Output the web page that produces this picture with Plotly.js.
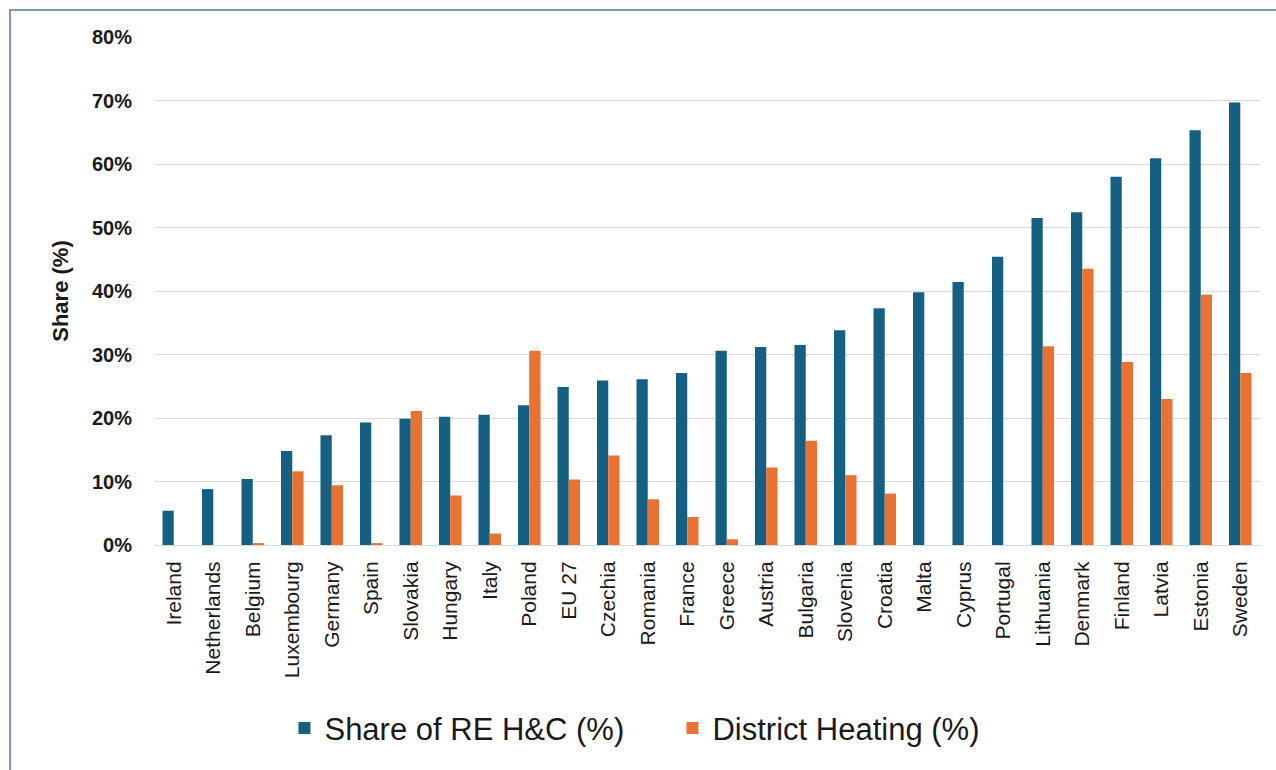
<!DOCTYPE html>
<html>
<head>
<meta charset="utf-8">
<script src="https://cdn.plot.ly/plotly-3.0.1.min.js"></script>
<style>
  html, body { margin: 0; padding: 0; background: #ffffff; }
  #chart { width: 1276px; height: 770px; }
  #frame { position: absolute; left: 9px; top: 9px; width: 1300px; height: 800px;
           border-left: 2px solid #7b98ae; border-top: 2px solid #7b98ae; pointer-events: none; }
</style>
</head>
<body>
<div id="chart"></div>
<div id="frame"></div>
<script>
const countries = ["Ireland","Netherlands","Belgium","Luxembourg","Germany","Spain","Slovakia","Hungary","Italy","Poland","EU 27","Czechia","Romania","France","Greece","Austria","Bulgaria","Slovenia","Croatia","Malta","Cyprus","Portugal","Lithuania","Denmark","Finland","Latvia","Estonia","Sweden"];
const shareRE = [5.4, 8.8, 10.4, 14.8, 17.3, 19.3, 19.9, 20.2, 20.5, 22.0, 24.9, 25.9, 26.1, 27.1, 30.6, 31.2, 31.5, 33.8, 37.3, 39.8, 41.4, 45.4, 51.5, 52.4, 58.0, 60.9, 65.3, 69.7];
const districtHeating = [0, 0, 0.3, 11.6, 9.4, 0.3, 21.1, 7.8, 1.8, 30.6, 10.3, 14.1, 7.2, 4.4, 0.9, 12.2, 16.4, 11.0, 8.1, 0, 0, 0, 31.3, 43.5, 28.8, 23.0, 39.4, 27.1];
const yTicks = [0, 10, 20, 30, 40, 50, 60, 70, 80];
const yTickText = ["0%", "10%", "20%", "30%", "40%", "50%", "60%", "70%", "80%"];

const traces = [
  { type: "bar", name: "Share of RE H&C (%)", x: countries, y: shareRE,
    marker: { color: "#156082" }, hoverinfo: "x+y" },
  { type: "bar", name: "District Heating (%)", x: countries, y: districtHeating,
    marker: { color: "#E97132" }, hoverinfo: "x+y" }
];

const layout = {
  width: 1276, height: 770,
  paper_bgcolor: "#ffffff", plot_bgcolor: "#ffffff",
  margin: { l: 154, r: 16, t: 37, b: 225 },
  barmode: "group", bargap: 0.43, bargroupgap: 0,
  font: { family: "Liberation Sans, Arial, sans-serif", color: "#1a1a1a" },
  showlegend: true,
  legend: {
    orientation: "h", xref: "container", yref: "container",
    x: 0.527, xanchor: "center", y: 0.054, yanchor: "middle",
    entrywidth: 343,
    font: { size: 31, family: "Liberation Sans, Arial, sans-serif", color: "#1a1a1a" },
    itemsizing: "constant"
  },
  xaxis: {
    type: "category", tickangle: -90,
    tickfont: { size: 21, color: "#1a1a1a" },
    showgrid: false, showline: true, linecolor: "#d9d9d9", linewidth: 1,
    ticks: "outside", ticklen: 7, tickcolor: "rgba(0,0,0,0)", automargin: false
  },
  yaxis: {
    range: [0, 80], tickvals: yTicks, ticktext: yTickText,
    tickfont: { size: 20, color: "#1a1a1a", weight: "bold" },
    showgrid: true, gridcolor: "#d9d9d9", gridwidth: 1,
    zeroline: true, zerolinecolor: "#d9d9d9",
    ticks: "outside", ticklen: 17, tickcolor: "rgba(0,0,0,0)",
    automargin: false,
    title: { text: "Share (%)", font: { size: 22, color: "#1a1a1a", weight: "bold" }, standoff: 17 }
  }
};

Plotly.newPlot("chart", traces, layout, { displayModeBar: false, staticPlot: true });
</script>
</body>
</html>
